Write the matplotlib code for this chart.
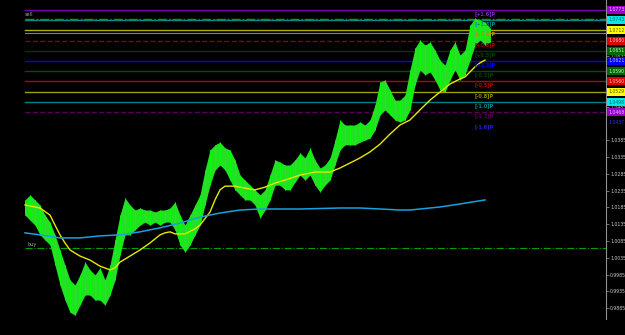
import matplotlib
matplotlib.use("Agg")
import matplotlib.pyplot as plt
import matplotlib.transforms as mtransforms
import numpy as np

# bar highs / lows, one bar every step
highs = [1.0207, 1.0222, 1.0207, 1.0192, 1.0162, 1.0141, 1.0103, 1.0058, 1.0013, 0.9969,
         0.9954, 0.9984, 1.0022, 0.9999, 0.9984, 1.0005, 0.9969, 1.0013, 1.0088, 1.0162,
         1.0213, 1.0192, 1.0177, 1.0183, 1.0177, 1.0177, 1.0171, 1.0177, 1.0177, 1.0183,
         1.0201, 1.0162, 1.0132, 1.0162, 1.0192, 1.0222, 1.0296, 1.0356, 1.0371, 1.0379,
         1.0362, 1.0356, 1.0326, 1.0281, 1.0266, 1.0251, 1.0237, 1.0222, 1.0237, 1.0281,
         1.0326, 1.0320, 1.0311, 1.0311, 1.0326, 1.0347, 1.0332, 1.0362, 1.0326, 1.0302,
         1.0311, 1.0332, 1.0385, 1.0445, 1.0430, 1.0430, 1.0430, 1.0439, 1.0430, 1.0445,
         1.0490, 1.0558, 1.0564, 1.0534, 1.0504, 1.0504, 1.0519, 1.0594, 1.0659, 1.0683,
         1.0668, 1.0677, 1.0653, 1.0623, 1.0608, 1.0653, 1.0677, 1.0638, 1.0653, 1.0727,
         1.0748, 1.0742, 1.0736, 1.0719]
lows = [1.0162, 1.0147, 1.0132, 1.0103, 1.0088, 1.0073, 1.0013, 0.9954, 0.9909, 0.9873,
        0.9864, 0.9894, 0.9924, 0.9924, 0.9909, 0.9909, 0.9894, 0.9924, 0.9969, 1.0043,
        1.0103, 1.0103, 1.0118, 1.0132, 1.0141, 1.0132, 1.0141, 1.0132, 1.0141, 1.0141,
        1.0118, 1.0073, 1.0052, 1.0073, 1.0103, 1.0132, 1.0192, 1.0251, 1.0296, 1.0311,
        1.0296, 1.0266, 1.0237, 1.0222, 1.0207, 1.0207, 1.0192, 1.0153, 1.0177, 1.0207,
        1.0251, 1.0251, 1.0237, 1.0237, 1.0260, 1.0281, 1.0266, 1.0281, 1.0251, 1.0231,
        1.0251, 1.0266, 1.0311, 1.0356, 1.0371, 1.0371, 1.0371, 1.0379, 1.0385, 1.0391,
        1.0415, 1.0460, 1.0475, 1.0460, 1.0445, 1.0439, 1.0445, 1.0475, 1.0549, 1.0594,
        1.0579, 1.0588, 1.0564, 1.0534, 1.0528, 1.0564, 1.0594, 1.0564, 1.0579, 1.0623,
        1.0668, 1.0683, 1.0668, 1.0677]

# moving averages (bar index, price)
ma_fast_idx = [0, 3, 5, 6, 7, 8, 9, 11, 13, 15, 17, 18, 19, 21, 23, 25, 27, 28, 29, 30,
               32, 34, 35, 37, 38, 39, 40, 42, 44, 46, 48, 50, 52, 55, 58, 61, 63, 65, 67, 69,
               71, 73, 75, 77, 79, 81, 83, 84, 85, 87, 88, 89, 90, 91, 92]
ma_fast = [1.0192, 1.0183, 1.0162, 1.0132, 1.0103, 1.0079, 1.0058, 1.0040, 1.0028, 1.0010,
           0.9999, 1.0005, 1.0022, 1.0040, 1.0058, 1.0079, 1.0103, 1.0109, 1.0112, 1.0106,
           1.0106, 1.0121, 1.0132, 1.0171, 1.0207, 1.0237, 1.0248, 1.0248, 1.0242, 1.0237,
           1.0245, 1.0257, 1.0266, 1.0281, 1.0290, 1.0290, 1.0302, 1.0317, 1.0332, 1.0350,
           1.0373, 1.0403, 1.0430, 1.0445, 1.0475, 1.0504, 1.0528, 1.0540, 1.0552, 1.0567,
           1.0573, 1.0588, 1.0603, 1.0615, 1.0623]
ma_slow_idx = [0, 3, 7, 11, 15, 19, 23, 27, 31, 35, 39, 43, 47, 55, 63, 67, 71, 75, 77, 79,
               83, 87, 92]
ma_slow = [1.0109, 1.0103, 1.0094, 1.0094, 1.0100, 1.0103, 1.0112, 1.0124, 1.0138, 1.0156,
           1.0168, 1.0177, 1.0180, 1.0180, 1.0183, 1.0183, 1.0180, 1.0177, 1.0177, 1.0180,
           1.0186, 1.0195, 1.0207]

# pivot levels
levels = [1.0773, 1.0743, 1.0712, 1.0680, 1.0651, 1.0621, 1.0590, 1.0560, 1.0529, 1.0498, 1.0468, 1.0437]
level_tags = ["[+1.6]P", "[+1.3]P", "[+1.0]P", "[+0.8]P", "[+0.5]P", "[+0.3]P",
              "[-0.3]P", "[-0.5]P", "[-0.8]P", "[-1.0]P", "[-1.3]P", "[-1.6]P"]
line_colors = ['#7a00b0', '#009090', '#b0b000', '#8b0000', '#003a00', '#0000ff',
               '#005000', '#c00000', '#a0a000', '#008080', '#5a005a', None]
line_styles = ['-', '-', '-', '--', '-', '-', '-', '-', '-', '-', '--', ':']
box_colors = ['#9900cc', '#00e8e8', '#ffff00', '#dd0000', '#006600', '#0000ee',
              '#006600', '#dd0000', '#ffff00', '#00e8e8', '#9900cc', '#000000']
box_text = ['#e0c0ff', '#006060', '#505000', '#ffc0c0', '#c0ffc0', '#c0c0ff',
            '#c0ffc0', '#ffc0c0', '#505000', '#006060', '#e0c0ff', '#3030ff']
tag_colors = ['#7a2bc2', '#009090', '#a0a000', '#a00000', '#004400', '#0000ee',
              '#004400', '#b00000', '#909000', '#008f8f', '#5a005a', '#2020e0']

sell_price = 1.0746
buy_price = 1.0064
grey_price = 1.0704

tick_values = [0.9885, 0.9935, 0.9985, 1.0035, 1.0085, 1.0135, 1.0185, 1.0235, 1.0285,
               1.0335, 1.0385, 1.0485, 1.0635]

fig = plt.figure(figsize=(6.25, 3.35), dpi=100, facecolor='black')
ax = fig.add_axes([0, 16 / 335, 606 / 625, 319 / 335])
ax.set_facecolor('black')

x = np.arange(len(highs))
ax.fill_between(x, lows, highs, color='#22e022', lw=0, zorder=3)
ax.vlines(x, lows, highs, color='#00ff00', lw=0.7, zorder=4)

ax.plot(ma_fast_idx, ma_fast, color='#e8e800', lw=1.0, zorder=5)
ax.plot(ma_slow_idx, ma_slow, color='#1aa0e0', lw=1.1, zorder=5)

# horizontal levels
for i, lvl in enumerate(levels):
    if line_colors[i] is not None:
        ax.axhline(lvl, xmin=25 / 606, color=line_colors[i], lw=1.0, ls=line_styles[i], zorder=2)
    ax.text(90, lvl - 0.0003, level_tags[i], color=tag_colors[i], fontsize=3.6,
            va='top', ha='left', zorder=6, fontweight='bold')
ax.axhline(grey_price, xmin=25 / 606, color='#808080', lw=0.8, zorder=2)
ax.axhline(sell_price, xmin=25 / 606, color='#a00000', lw=1.0, ls=(0, (2, 6)), zorder=2)
ax.axhline(sell_price, xmin=25 / 606, color='#00a000', lw=1.0, ls='-.', zorder=2)
ax.axhline(buy_price, xmin=25 / 606, color='#00a000', lw=0.8, ls='-.', zorder=2)
ax.text(0, sell_price + 0.0006, "sell", color='#a0a0a0', fontsize=3.6, va='bottom', ha='left')
ax.text(0.5, buy_price + 0.0003, "buy", color='#a0a0a0', fontsize=3.6, va='bottom', ha='left')

ax.set_xlim(-5, (606 - 25) / 5)
ax.set_ylim(1.0802 - 319 * 0.0002976, 1.0802)

ax.yaxis.tick_right()
ax.set_yticks(tick_values)
ax.set_yticklabels(["%.4f" % v for v in tick_values])
ax.tick_params(axis='y', colors='#808080', labelcolor='#c8c8c8', labelsize=3.3, length=2, width=0.6, pad=1)
ax.set_xticks([])
for s in ['left', 'top', 'bottom']:
    ax.spines[s].set_visible(False)
ax.spines['right'].set_color('#909090')
ax.spines['right'].set_linewidth(0.8)

# price boxes on the axis
trans = mtransforms.blended_transform_factory(ax.transAxes, ax.transData)
for i, lvl in enumerate(levels):
    ax.text(1.004, lvl, "%.4f" % lvl, transform=trans, fontsize=3.3, color=box_text[i],
            va='center', ha='left', clip_on=False, zorder=10,
            bbox=dict(boxstyle='square,pad=0.3', fc=box_colors[i], ec='none'))

fig.savefig("out.png", dpi=100, facecolor='black')
